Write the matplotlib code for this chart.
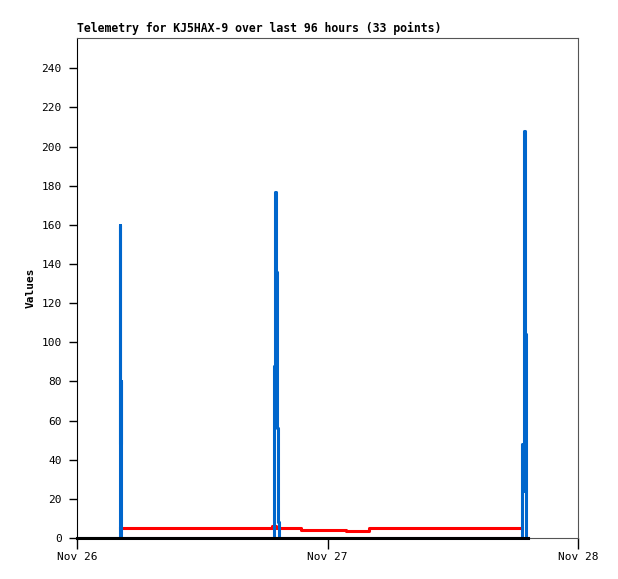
import matplotlib
matplotlib.use("Agg")
from matplotlib import pyplot as plt
import matplotlib.dates as mdates
import numpy as np
import pandas as pd

# telemetry packets, hours after Nov 26 00:00
hours = [0.0, 4.10, 4.13, 4.16, 4.19, 4.22, 8.0, 10.0, 12.0, 14.0, 16.0,
         18.70, 18.85, 18.95, 19.05, 19.15, 19.25, 19.35, 21.5, 24.0,
         25.8, 28.0, 31.0, 34.0, 37.0, 40.0, 42.55, 42.62, 42.70, 42.85,
         42.95, 43.05, 43.2]
ch_blue = [0, 0, 160, 48, 80, 0, 0, 0, 0, 0, 0,
           0, 88, 177, 136, 56, 8, 0, 0, 0,
           0, 0, 0, 0, 0, 0, 0, 48, 24, 208,
           104, 0, 0]
ch_red = [np.nan, 4.9, 4.9, 4.9, 4.9, 4.9, 4.9, 4.9, 4.9, 4.9, 4.9,
          6.2, 6.2, 6.2, 4.9, 4.9, 4.9, 4.9, 4.2, 4.2,
          3.6, 4.9, 4.9, 4.9, 4.9, 4.9, 4.9, np.nan, np.nan, np.nan,
          np.nan, np.nan, np.nan]
ch_black = [0] * len(hours)

base = pd.Timestamp("2024-11-26 00:00")
times = [base + pd.Timedelta(hours=h) for h in hours]

plt.rcParams['font.family'] = ['DejaVu Sans Mono']

fig = plt.figure(figsize=(6.18, 5.79), dpi=100)
ax = fig.add_axes([77 / 618, 1 - 538 / 579, 501 / 618, 500 / 579])

ax.plot(times, ch_red, color='#ff0000', lw=2.2, drawstyle='steps-post', zorder=2)
ax.plot(times, ch_blue, color='#0066cc', lw=2.2, drawstyle='steps-post', zorder=3)
ax.plot(times, ch_black, color='black', lw=2.2, drawstyle='steps-post', zorder=4,
        clip_on=False)

ax.set_xlim(base, base + pd.Timedelta(days=2))
ax.set_ylim(0, 255.5)
ax.set_yticks(range(0, 241, 20))
ax.xaxis.set_major_locator(mdates.DayLocator())
ax.xaxis.set_major_formatter(mdates.DateFormatter('%b %d'))

ax.tick_params(axis='y', direction='out', length=6, width=1, labelsize=8, pad=5)
ax.tick_params(axis='x', direction='out', length=8, width=1, labelsize=8, pad=2)

for side in ['top', 'right']:
    ax.spines[side].set_color('#555555')
ax.spines['left'].set_color('black')
ax.spines['bottom'].set_color('#555555')

ax.set_title('Telemetry for KJ5HAX-9 over last 96 hours (33 points)',
             loc='left', fontsize=8.3, fontweight='bold', pad=4)
ax.set_ylabel('Values', fontsize=8, fontweight='bold', labelpad=4)

fig.savefig('out.png', dpi=100)
